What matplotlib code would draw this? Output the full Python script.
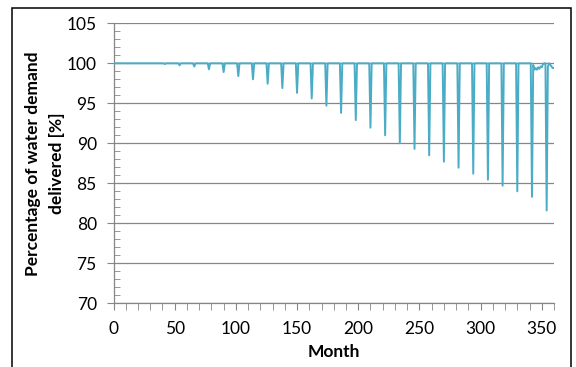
import numpy as np
import matplotlib
matplotlib.use("Agg")
from matplotlib import pyplot as plt
from matplotlib.patches import Rectangle
from matplotlib.ticker import MultipleLocator

plt.rcParams['font.family'] = ['Lato', 'DejaVu Sans']

# monthly series: 100 % except for a dry-season dip once a year
months = np.arange(0, 361)
dip_months = [42, 54, 66, 78, 90, 102, 114, 126, 138, 150, 162, 174, 186,
              198, 210, 222, 234, 246, 258, 270, 282, 294, 306, 318, 330,
              342, 354]
dip_values = [99.9, 99.75, 99.6, 99.25, 98.9, 98.4, 98.0, 97.45, 96.9, 96.3,
              95.6, 94.7, 93.8, 92.9, 91.95, 91.0, 90.0, 89.3, 88.5, 87.7,
              86.95, 86.2, 85.45, 84.7, 84.0, 83.3, 81.6]
# the last few months do not reach 100 again
tail_months = [343, 344, 345, 346, 347, 348, 349, 350, 351, 355, 357, 358, 359, 360]
tail_values = [99.8, 99.2, 99.4, 99.2, 99.5, 99.3, 99.6, 99.5, 99.9, 99.6, 99.8, 99.6, 99.4, 99.4]

delivered = np.full(len(months), 100.0)
delivered[dip_months] = dip_values
delivered[tail_months] = tail_values

W, H = 576, 367
fig = plt.figure(figsize=(W / 100, H / 100), dpi=100)
x0, x1, y0, y1 = 113.5, 554, 23.3, 303.3   # plot area in pixels from top-left
ax = fig.add_axes([x0 / W, 1 - y1 / H, (x1 - x0) / W, (y1 - y0) / H])

ax.plot(months, delivered, color='#4bacc6', lw=1.4, zorder=3)

ax.set_xlim(0, 360)
ax.set_ylim(70, 105)
ax.xaxis.set_major_locator(MultipleLocator(50))
ax.xaxis.set_minor_locator(MultipleLocator(10))
ax.yaxis.set_major_locator(MultipleLocator(5))
ax.yaxis.set_minor_locator(MultipleLocator(1))

ax.grid(axis='y', which='major', color='#868686', lw=0.9)
ax.set_axisbelow(True)
for s in ['top', 'right']:
    ax.spines[s].set_visible(False)
for s in ['left', 'bottom']:
    ax.spines[s].set_color('#868686')
    ax.spines[s].set_linewidth(0.9)

ax.tick_params(axis='y', which='major', direction='out', length=5, color='#868686', labelsize=12.5, pad=7)
ax.tick_params(axis='y', which='minor', direction='in', length=4, color='#868686')
ax.tick_params(axis='x', which='both', direction='out', length=5, color='#868686', labelsize=12.5, pad=8)

ax.set_xlabel('Month', fontweight='bold', fontsize=12.5, va='center')
ax.xaxis.set_label_coords(0.5, -(351.7 - y1) / (y1 - y0))
ax.set_ylabel('Percentage of water demand\ndelivered [%]', fontweight='bold', fontsize=12.5,
              linespacing=1.65, va='center')
ax.yaxis.set_label_coords(-(x0 - 45) / (x1 - x0), 0.5)

# outer frame of the original figure
fig.patches.append(Rectangle((11.9 / W, -0.05), (570.7 - 11.9) / W, 1 - 8 / H + 0.05,
                             transform=fig.transFigure, fill=False, ec='black', lw=1.1))

fig.savefig('out.png', dpi=100)
